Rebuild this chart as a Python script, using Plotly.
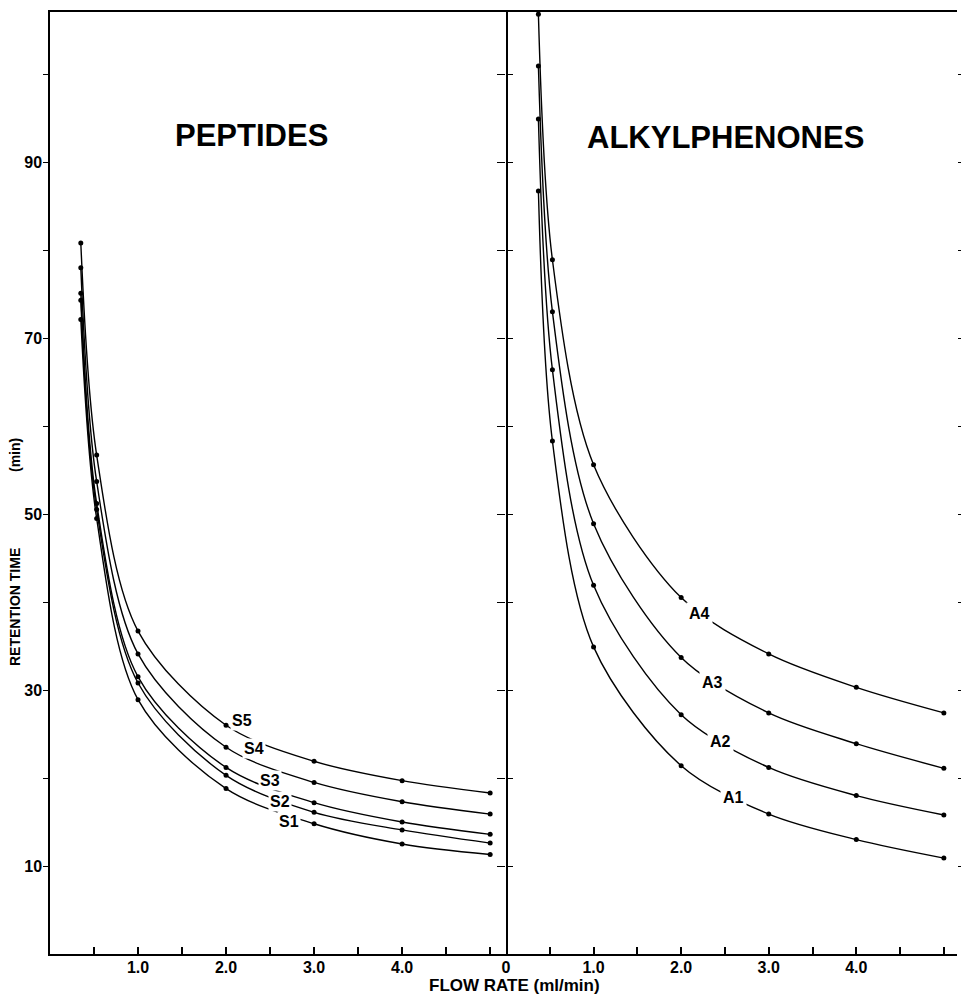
import plotly.graph_objects as go

# ---------------- data ----------------
flow_pep = [0.35, 0.53, 1.0, 2.0, 3.0, 4.0, 5.0]
S1 = [72.1, 49.5, 28.9, 18.8, 14.8, 12.5, 11.3]
S2 = [74.3, 50.5, 30.8, 20.3, 16.1, 14.1, 12.6]
S3 = [75.1, 51.2, 31.5, 21.2, 17.2, 15.0, 13.6]
S4 = [78.0, 53.7, 34.1, 23.5, 19.5, 17.3, 15.9]
S5 = [80.8, 56.7, 36.7, 26.0, 21.9, 19.7, 18.3]
pep_names = ["S1", "S2", "S3", "S4", "S5"]

flow_alk = [0.37, 0.53, 1.0, 2.0, 3.0, 4.0, 5.0]
A1 = [86.7, 58.3, 34.9, 21.4, 15.9, 13.0, 10.9]
A2 = [94.9, 66.4, 41.9, 27.2, 21.2, 18.0, 15.8]
A3 = [100.9, 73.0, 48.9, 33.7, 27.4, 23.9, 21.1]
A4 = [106.8, 78.9, 55.6, 40.5, 34.1, 30.3, 27.4]
alk_names = ["A1", "A2", "A3", "A4"]

y_tickvals = [10, 20, 30, 40, 50, 60, 70, 80, 90, 100]
y_ticktext = ["10", "", "30", "", "50", "", "70", "", "90", ""]
x_tickvals_left = [0.5, 1.0, 1.5, 2.0, 2.5, 3.0, 3.5, 4.0, 4.5, 5.0]
x_ticktext_left = ["", "1.0", "", "2.0", "", "3.0", "", "4.0", "", ""]
x_tickvals_right = [0, 0.5, 1.0, 1.5, 2.0, 2.5, 3.0, 3.5, 4.0, 4.5, 5.0]
x_ticktext_right = ["0", "", "1.0", "", "2.0", "", "3.0", "", "4.0", "", ""]

# ---------------- figure ----------------
FONT = "Liberation Sans"
fig = go.Figure()

line_style = dict(color="black", width=1.4, shape="spline", smoothing=0.9)
marker_style = dict(color="black", size=5)

for name, ys in zip(pep_names, [S1, S2, S3, S4, S5]):
    fig.add_trace(go.Scatter(x=flow_pep, y=ys, mode="lines+markers", name=name,
                             line=line_style, marker=marker_style,
                             xaxis="x", yaxis="y", showlegend=False))
for name, ys in zip(alk_names, [A1, A2, A3, A4]):
    fig.add_trace(go.Scatter(x=flow_alk, y=ys, mode="lines+markers", name=name,
                             line=line_style, marker=marker_style,
                             xaxis="x2", yaxis="y2", showlegend=False))

split = 456 / 907
tickfont = dict(family=FONT, size=16, color="black", weight="bold")

fig.update_layout(
    width=961, height=994,
    margin=dict(l=50, r=4, t=12, b=40),
    paper_bgcolor="white", plot_bgcolor="white",
    xaxis=dict(domain=[0, split], range=[0, 5.18], showgrid=False, zeroline=False,
               showline=True, linecolor="black", linewidth=1.5, mirror=True,
               ticks="inside", ticklen=7, tickcolor="black", tickwidth=1.5,
               ticklabelstandoff=-2,
               tickvals=x_tickvals_left, ticktext=x_ticktext_left, tickfont=tickfont),
    xaxis2=dict(domain=[split, 1], range=[0, 5.15], anchor="y2", showgrid=False, zeroline=False,
                showline=True, linecolor="black", linewidth=1.5, mirror=True,
                ticks="inside", ticklen=7, tickcolor="black", tickwidth=1.5,
                ticklabelstandoff=-2,
                tickvals=x_tickvals_right, ticktext=x_ticktext_right, tickfont=tickfont),
    yaxis=dict(range=[0, 107.05], showgrid=False, zeroline=False,
               showline=True, linecolor="black", linewidth=1.5, mirror="ticks",
               ticks="outside", ticklen=5, tickcolor="black", tickwidth=1.3,
               ticklabelstandoff=-2,
               tickvals=y_tickvals, ticktext=y_ticktext, tickfont=tickfont),
    yaxis2=dict(range=[0, 107.05], anchor="x2", showgrid=False, zeroline=False,
                showline=False, mirror="ticks",
                ticks="outside", ticklen=8, tickcolor="black", tickwidth=1.3,
                tickvals=y_tickvals, showticklabels=False),
)

PW, PH = 907, 942


def px(xp, yp):
    """pixel position (from top-left of page) -> paper fractions"""
    return (xp - 50) / PW, (954 - yp) / PH


anns = []
titlefont = dict(family=FONT, size=31, color="black", weight="bold")
for text, (xp, yp) in [("PEPTIDES", (251, 136)), ("ALKYLPHENONES", (725, 138))]:
    fx, fy = px(xp, yp)
    anns.append(dict(text=text, x=fx, y=fy, xref="paper", yref="paper",
                     xanchor="center", yanchor="middle", showarrow=False, font=titlefont))

# curve labels (positions in data units)
lab_font = dict(family=FONT, size=16, color="black", weight="bold")
pep_lab_pos = [(2.71, 15.1), (2.61, 17.3), (2.50, 19.7), (2.32, 23.4), (2.18, 26.5)]
for name, (lx, ly) in zip(pep_names, pep_lab_pos):
    anns.append(dict(text=name, x=lx, y=ly, xref="x", yref="y", showarrow=False,
                     xanchor="center", yanchor="middle",
                     font=lab_font, bgcolor="white", borderpad=1))
alk_lab_pos = [(2.60, 17.8), (2.45, 24.1), (2.36, 30.9), (2.21, 38.75)]
for name, (lx, ly) in zip(alk_names, alk_lab_pos):
    anns.append(dict(text=name, x=lx, y=ly, xref="x2", yref="y2", showarrow=False,
                     xanchor="center", yanchor="middle",
                     font=lab_font, bgcolor="white", borderpad=2))

# axis titles
axfont = dict(family=FONT, size=14, color="black", weight="bold")
for text, (xp, yp) in [("RETENTION TIME", (15, 607)), ("(min)", (15, 455))]:
    fx, fy = px(xp, yp)
    anns.append(dict(text=text, x=fx, y=fy, textangle=-90, xref="paper", yref="paper",
                     xanchor="center", yanchor="middle", showarrow=False, font=axfont))
fx, fy = px(514, 985)
anns.append(dict(text="FLOW RATE (ml/min)", x=fx, y=fy, xref="paper", yref="paper",
                 xanchor="center", yanchor="middle", showarrow=False,
                 font=dict(family=FONT, size=17, color="black", weight="bold")))

fig.update_layout(annotations=anns)
fig.write_html("out.html")
